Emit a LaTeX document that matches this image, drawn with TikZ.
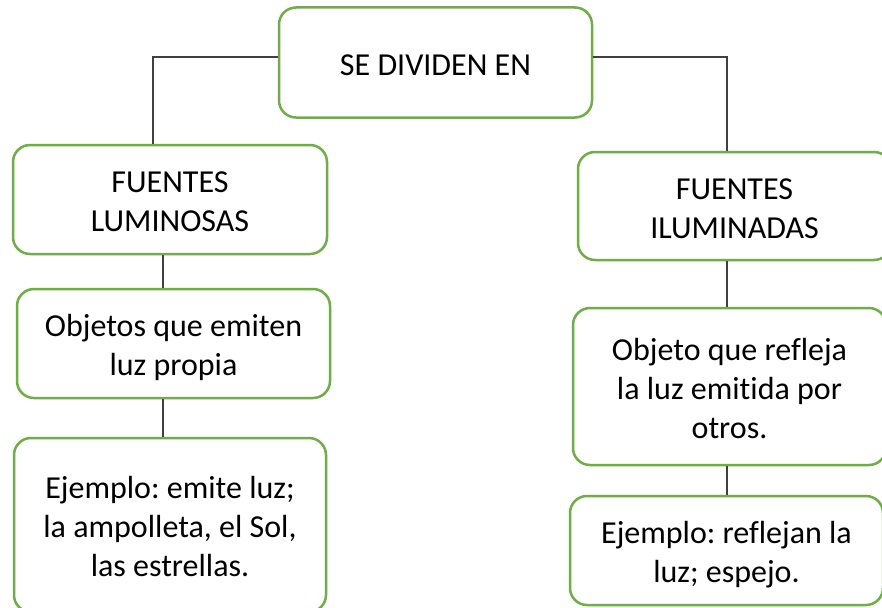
\documentclass[tikz,border=0pt]{standalone}
\usepackage{fontspec}
\setmainfont{Carlito}[Ligatures=NoCommon]
\frenchspacing
\definecolor{boxgreen}{HTML}{70AD47}
\definecolor{linegray}{HTML}{404040}
\newcommand\tstrut{\rule{0pt}{34pt}}
\newcommand\bstrut{\rule[-8.6pt]{0pt}{0pt}}
\tikzset{
  box/.style={draw=boxgreen, line width=2.5pt, rounded corners=17pt, align=center,
    inner sep=0pt, font=\fontsize{32}{39}\selectfont, text=black},
  conn/.style={draw=linegray, line width=1.3pt}
}
\begin{document}
\begin{tikzpicture}[x=1pt,y=-1pt]
\useasboundingbox (0,0) rectangle (882,607);
\clip (0,0) rectangle (882,607);
\fill[white] (0,0) rectangle (882,607);
\coordinate (tlx) at (153,0);
\coordinate (lx) at (163,0);
\coordinate (rx) at (727,0);
\coordinate (ty) at (0,57);
\node[box, minimum width=313pt, minimum height=110pt] (top) at (435.5,62.5) {\tstrut SE DIVIDEN EN\bstrut};
\node[box, minimum width=314pt, minimum height=109pt] (L1) at (170,199.5) {\tstrut FUENTES\\LUMINOSAS\bstrut};
\node[box, minimum width=313pt, minimum height=109pt] (L2) at (173.5,343.5) {\tstrut Objetos que emiten\\luz propia\bstrut};
\node[box, minimum width=312pt, minimum height=174pt] (L3) at (170,525) {\tstrut Ejemplo: emite luz;\\la ampolleta, el Sol,\\las estrellas.\bstrut};
\node[box, minimum width=313pt, minimum height=108pt] (R1) at (734.5,206) {\tstrut FUENTES\\ILUMINADAS\bstrut};
\node[box, minimum width=313pt, minimum height=157pt] (R2) at (729.5,386.5) {\tstrut Objeto que refleja\\la luz emitida por\\otros.\bstrut};
\node[box, minimum width=313pt, minimum height=109pt] (R3) at (726.5,550.5) {\tstrut Ejemplo: reflejan la\\luz; espejo.\bstrut};
\draw[conn] (top.west |- ty) -| (tlx |- L1.north);
\draw[conn] (top.east |- ty) -| (rx |- R1.north);
\draw[conn] (lx |- L1.south) -- (lx |- L2.north);
\draw[conn] (lx |- L2.south) -- (lx |- L3.north);
\draw[conn] (rx |- R1.south) -- (rx |- R2.north);
\draw[conn] (rx |- R2.south) -- (rx |- R3.north);
\end{tikzpicture}
\end{document}
